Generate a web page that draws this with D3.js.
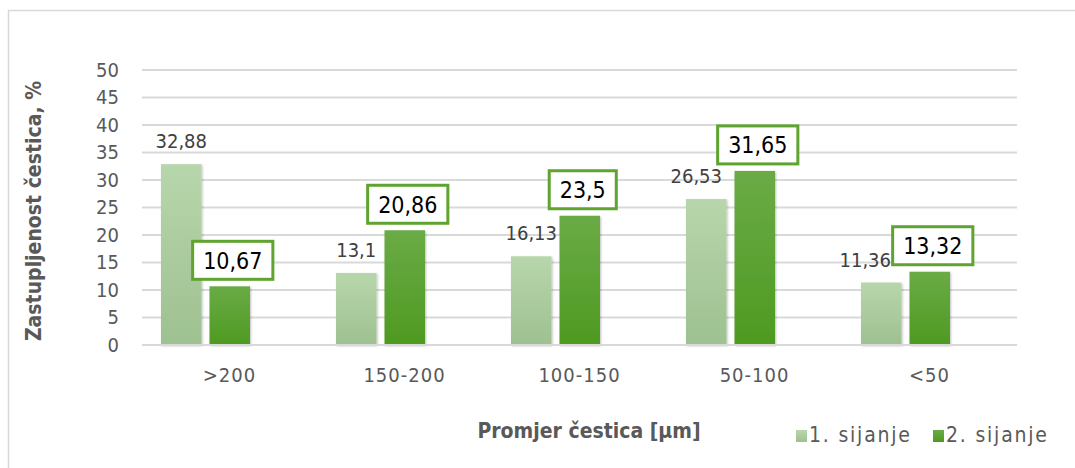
<!DOCTYPE html>
<html>
<head>
<meta charset="utf-8">
<script src="https://cdn.jsdelivr.net/npm/d3@7"></script>
<style>
  html, body { margin: 0; padding: 0; background: #fff; }
  svg { display: block; font-family: "DejaVu Sans Condensed", "DejaVu Sans", sans-serif; }
</style>
</head>
<body>
<svg id="chart" width="1075" height="468"></svg>
<script>
const categories = [">200", "150-200", "100-150", "50-100", "<50"];
const seriesNames = ["1. sijanje", "2. sijanje"];
const sijanje1 = [32.88, 13.1, 16.13, 26.53, 11.36];
const sijanje2 = [10.67, 20.86, 23.5, 31.65, 13.32];
const yTicks = [0, 5, 10, 15, 20, 25, 30, 35, 40, 45, 50];

// small horizontal nudges of the plain labels (px), as in the original
const label1Shift = [0, 0, 0, -10, -16];

const fmt = (v) => String(v).replace(".", ",");

const svg = d3.select("#chart");

const plot = { left: 142, right: 1017, top: 70, bottom: 345 };

const defs = svg.append("defs");
function grad(id, top, bottom) {
  const lg = defs.append("linearGradient").attr("id", id)
    .attr("x1", 0).attr("y1", 0).attr("x2", 0).attr("y2", 1);
  lg.append("stop").attr("offset", "0%").attr("stop-color", top);
  lg.append("stop").attr("offset", "100%").attr("stop-color", bottom);
}
grad("g1", "#b8d6ab", "#9ec191");
grad("g2", "#6aab46", "#4e9a21");

const shadow = defs.append("filter").attr("id", "shadow")
  .attr("x", "-20%").attr("y", "-20%").attr("width", "140%").attr("height", "140%");
shadow.append("feDropShadow")
  .attr("dx", 1).attr("dy", 1).attr("stdDeviation", 1.2)
  .attr("flood-color", "#000").attr("flood-opacity", 0.25);

// outer frame
svg.append("rect")
  .attr("x", 8.5).attr("y", 10.5)
  .attr("width", 1200).attr("height", 600)
  .attr("fill", "#fff").attr("stroke", "#d9d9d9").attr("stroke-width", 1.5);

const y = d3.scaleLinear().domain([0, 50]).range([plot.bottom, plot.top]);
const x0 = d3.scaleBand().domain(categories).range([plot.left, plot.right]);
const x1 = d3.scaleBand().domain(seriesNames).range([0, 89]).paddingInner(0.165);
const groupOffset = 19;

// gridlines
svg.append("g")
  .selectAll("line")
  .data(yTicks.filter((d) => d > 0))
  .join("line")
  .attr("x1", plot.left).attr("x2", plot.right)
  .attr("y1", (d) => y(d)).attr("y2", (d) => y(d))
  .attr("stroke", "#d9d9d9").attr("stroke-width", 2);

// y axis labels
const yAxis = svg.append("g")
  .attr("transform", `translate(119,0)`)
  .call(d3.axisLeft(y).tickValues(yTicks).tickSize(0).tickPadding(0));
yAxis.select(".domain").remove();
yAxis.selectAll("text")
  .attr("font-family", "DejaVu Sans Condensed")
  .attr("font-size", 20)
  .attr("fill", "#595959");

// bars
const data = categories.map((c, i) => ({
  cat: c,
  i,
  vals: [
    { s: seriesNames[0], v: sijanje1[i] },
    { s: seriesNames[1], v: sijanje2[i] },
  ],
}));

const groups = svg.append("g")
  .selectAll("g")
  .data(data)
  .join("g")
  .attr("transform", (d) => `translate(${x0(d.cat) + groupOffset},0)`);

groups.selectAll("rect")
  .data((d) => d.vals)
  .join("rect")
  .attr("x", (d) => x1(d.s))
  .attr("y", (d) => y(d.v))
  .attr("width", x1.bandwidth())
  .attr("height", (d) => y(0) - y(d.v))
  .attr("fill", (d, j) => (j === 0 ? "url(#g1)" : "url(#g2)"))
  .attr("filter", "url(#shadow)");

// baseline
svg.append("line")
  .attr("x1", plot.left).attr("x2", plot.right)
  .attr("y1", y(0)).attr("y2", y(0))
  .attr("stroke", "#d9d9d9").attr("stroke-width", 2);

// labels for series 1 (plain)
groups.append("text")
  .attr("x", (d) => x1(seriesNames[0]) + x1.bandwidth() / 2 + label1Shift[d.i])
  .attr("y", (d) => y(sijanje1[d.i]) - 16)
  .attr("text-anchor", "middle")
  .attr("font-size", 20)
  .attr("fill", "#404040")
  .text((d) => fmt(sijanje1[d.i]));

// labels for series 2 (boxed)
const boxes = groups.append("g")
  .attr("transform", (d) =>
    `translate(${x1(seriesNames[1]) + x1.bandwidth() / 2 + 3},${y(sijanje2[d.i]) - 7 - 19})`);

boxes.each(function (d) {
  const g = d3.select(this);
  const t = g.append("text")
    .attr("x", 0).attr("y", 8.5)
    .attr("text-anchor", "middle")
    .attr("font-size", 23)
    .attr("fill", "#000")
    .text(fmt(sijanje2[d.i]));
  const w = t.node().getComputedTextLength() + 21;
  g.insert("rect", "text")
    .attr("x", -w / 2).attr("y", -19)
    .attr("width", w).attr("height", 38)
    .attr("fill", "#fff")
    .attr("stroke", "#5ea42f").attr("stroke-width", 3);
});

// category labels
svg.append("g")
  .selectAll("text")
  .data(categories)
  .join("text")
  .attr("x", (d) => x0(d) + x0.bandwidth() / 2)
  .attr("y", 382)
  .attr("text-anchor", "middle")
  .attr("font-size", 20)
  .attr("letter-spacing", 1)
  .attr("fill", "#595959")
  .text((d) => d);

// axis titles
svg.append("text")
  .attr("transform", `translate(41,${211}) rotate(-90)`)
  .attr("text-anchor", "middle")
  .attr("font-size", 21)
  .attr("font-weight", "bold")
  .attr("fill", "#595959")
  .text("Zastupljenost čestica, %");

svg.append("text")
  .attr("x", 589)
  .attr("y", 438)
  .attr("text-anchor", "middle")
  .attr("font-size", 21)
  .attr("font-weight", "bold")
  .attr("fill", "#595959")
  .text("Promjer čestica [μm]");

// legend
const legendX = [796, 933];
const legend = svg.append("g")
  .selectAll("g")
  .data(seriesNames)
  .join("g")
  .attr("transform", (d, i) => `translate(${legendX[i]},0)`);

legend.append("rect")
  .attr("x", 0).attr("y", 430)
  .attr("width", 11).attr("height", 12)
  .attr("fill", (d, i) => (i === 0 ? "url(#g1)" : "url(#g2)"));

legend.append("text")
  .attr("x", 13)
  .attr("y", 442)
  .attr("font-size", 21)
  .attr("letter-spacing", 1.8)
  .attr("fill", "#595959")
  .text((d) => d);
</script>
</body>
</html>
